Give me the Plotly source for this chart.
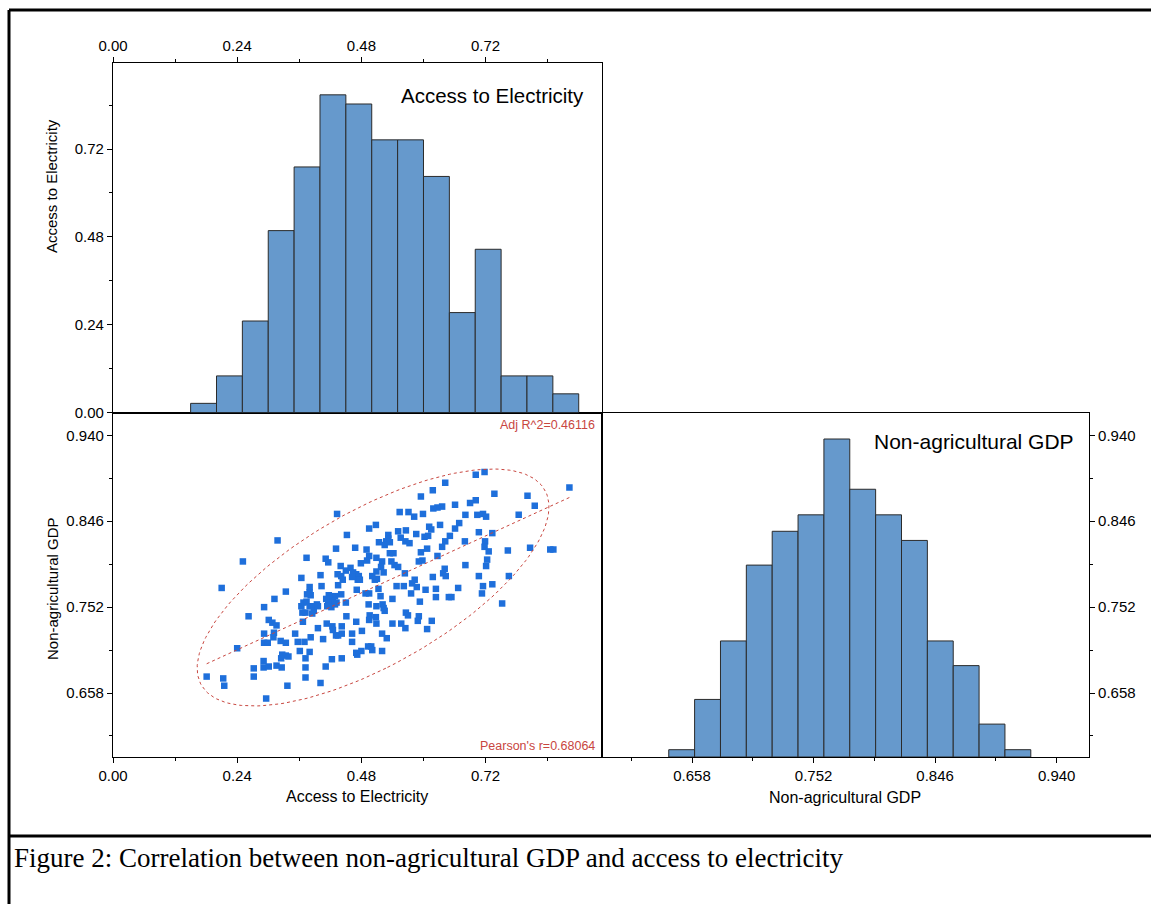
import numpy as np
import plotly.graph_objects as go

# ---------------- data ----------------
ACCESS = [0.718, 0.701, 0.882, 0.642, 0.618, 0.737, 0.595, 0.801, 0.815, 0.701,
          0.690, 0.661, 0.636, 0.627, 0.619, 0.571, 0.554, 0.582, 0.599, 0.681,
          0.704, 0.715, 0.721, 0.784, 0.433, 0.669, 0.661, 0.632, 0.611, 0.615,
          0.508, 0.495, 0.551, 0.566, 0.586, 0.602, 0.609, 0.651, 0.642, 0.680,
          0.707, 0.733, 0.719, 0.718, 0.726, 0.763, 0.806, 0.851, 0.845, 0.452,
          0.532, 0.532, 0.528, 0.514, 0.525, 0.535, 0.556, 0.565, 0.573, 0.318,
          0.431, 0.468, 0.490, 0.509, 0.495, 0.479, 0.491, 0.520, 0.538, 0.544,
          0.551, 0.535, 0.542, 0.595, 0.607, 0.636, 0.627, 0.598, 0.591, 0.641,
          0.638, 0.643, 0.681, 0.723, 0.721, 0.707, 0.765, 0.733, 0.715, 0.713,
          0.752, 0.667, 0.649, 0.654, 0.624, 0.624, 0.618, 0.604, 0.593, 0.587,
          0.583, 0.578, 0.576, 0.564, 0.562, 0.548, 0.540, 0.251, 0.374, 0.411,
          0.416, 0.440, 0.450, 0.459, 0.464, 0.470, 0.475, 0.473, 0.462, 0.509,
          0.518, 0.523, 0.510, 0.506, 0.501, 0.477, 0.471, 0.488, 0.495, 0.513,
          0.517, 0.521, 0.523, 0.525, 0.509, 0.494, 0.401, 0.364, 0.380, 0.403,
          0.434, 0.441, 0.444, 0.435, 0.441, 0.450, 0.421, 0.429, 0.425, 0.417,
          0.416, 0.412, 0.414, 0.422, 0.429, 0.432, 0.394, 0.380, 0.382, 0.375,
          0.364, 0.368, 0.374, 0.380, 0.385, 0.388, 0.396, 0.385, 0.366, 0.372,
          0.334, 0.312, 0.292, 0.262, 0.210, 0.301, 0.308, 0.316, 0.367, 0.396,
          0.413, 0.424, 0.425, 0.431, 0.435, 0.442, 0.442, 0.451, 0.462, 0.470,
          0.481, 0.496, 0.508, 0.495, 0.509, 0.520, 0.529, 0.540, 0.557, 0.565,
          0.566, 0.570, 0.591, 0.589, 0.616, 0.607, 0.292, 0.311, 0.310, 0.292,
          0.299, 0.324, 0.334, 0.352, 0.357, 0.361, 0.370, 0.380, 0.382, 0.406,
          0.372, 0.327, 0.334, 0.339, 0.325, 0.423, 0.442, 0.470, 0.472, 0.480,
          0.493, 0.499, 0.501, 0.520, 0.462, 0.240, 0.291, 0.272, 0.291, 0.301,
          0.316, 0.326, 0.272, 0.181, 0.213, 0.215, 0.337, 0.372, 0.372, 0.411,
          0.401, 0.296]

GDP = [0.900, 0.897, 0.883, 0.888, 0.880, 0.876, 0.873, 0.874, 0.863, 0.869,
       0.866, 0.864, 0.862, 0.861, 0.860, 0.856, 0.856, 0.851, 0.854, 0.853,
       0.853, 0.854, 0.851, 0.853, 0.854, 0.844, 0.838, 0.842, 0.840, 0.837,
       0.842, 0.838, 0.835, 0.836, 0.832, 0.829, 0.830, 0.830, 0.824, 0.824,
       0.834, 0.833, 0.824, 0.818, 0.813, 0.814, 0.817, 0.815, 0.815, 0.831,
       0.831, 0.827, 0.824, 0.823, 0.820, 0.823, 0.828, 0.824, 0.822, 0.825,
       0.816, 0.817, 0.815, 0.806, 0.808, 0.800, 0.803, 0.802, 0.802, 0.798,
       0.796, 0.811, 0.811, 0.812, 0.816, 0.818, 0.808, 0.803, 0.802, 0.794,
       0.789, 0.786, 0.798, 0.804, 0.797, 0.786, 0.786, 0.777, 0.775, 0.767,
       0.756, 0.773, 0.763, 0.763, 0.763, 0.772, 0.785, 0.771, 0.758, 0.774,
       0.782, 0.778, 0.767, 0.789, 0.775, 0.775, 0.761, 0.802, 0.806, 0.805,
       0.801, 0.797, 0.792, 0.795, 0.790, 0.788, 0.786, 0.782, 0.785, 0.791,
       0.796, 0.790, 0.783, 0.782, 0.786, 0.782, 0.771, 0.767, 0.767, 0.772,
       0.764, 0.755, 0.751, 0.748, 0.753, 0.755, 0.787, 0.784, 0.774, 0.775,
       0.788, 0.786, 0.782, 0.776, 0.766, 0.757, 0.763, 0.764, 0.759, 0.765,
       0.757, 0.761, 0.753, 0.752, 0.755, 0.757, 0.755, 0.768, 0.765, 0.766,
       0.753, 0.757, 0.758, 0.753, 0.753, 0.748, 0.753, 0.745, 0.746, 0.746,
       0.769, 0.761, 0.752, 0.742, 0.773, 0.738, 0.735, 0.732, 0.736, 0.729,
       0.734, 0.731, 0.727, 0.721, 0.721, 0.723, 0.731, 0.742, 0.723, 0.736,
       0.726, 0.743, 0.741, 0.738, 0.734, 0.723, 0.718, 0.734, 0.734, 0.729,
       0.746, 0.743, 0.742, 0.737, 0.737, 0.728, 0.723, 0.724, 0.719, 0.713,
       0.713, 0.715, 0.713, 0.723, 0.714, 0.704, 0.714, 0.703, 0.719, 0.717,
       0.696, 0.700, 0.699, 0.698, 0.696, 0.695, 0.696, 0.702, 0.700, 0.704,
       0.709, 0.709, 0.705, 0.704, 0.714, 0.707, 0.693, 0.685, 0.686, 0.687,
       0.688, 0.686, 0.676, 0.676, 0.674, 0.666, 0.666, 0.675, 0.686, 0.687,
       0.669, 0.652]

ACCESS_BIN_CENTERS = [0.175, 0.225, 0.275, 0.325, 0.375, 0.425, 0.475, 0.525,
                      0.575, 0.625, 0.675, 0.725, 0.775, 0.825, 0.875]
ACCESS_BIN_HEIGHTS = [0.025, 0.100, 0.250, 0.497, 0.671, 0.868, 0.843, 0.745,
                      0.745, 0.645, 0.273, 0.446, 0.100, 0.100, 0.051]

GDP_BIN_CENTERS = [0.65, 0.67, 0.69, 0.71, 0.73, 0.75, 0.77,
                   0.79, 0.81, 0.83, 0.85, 0.87, 0.89, 0.91]
GDP_BIN_TOPS = [0.596, 0.651, 0.715, 0.798, 0.835, 0.853, 0.936,
                0.881, 0.853, 0.825, 0.715, 0.688, 0.624, 0.596]

ACCESS_TICKS = [0.00, 0.24, 0.48, 0.72]
ACCESS_TICK_TEXT = ["0.00", "0.24", "0.48", "0.72"]
GDP_TICKS = [0.658, 0.752, 0.846, 0.940]
GDP_TICK_TEXT = ["0.658", "0.752", "0.846", "0.940"]

PEARSON_R = 0.68064
ADJ_R2_TEXT = "Adj R^2=0.46116"
PEARSON_TEXT = "Pearson's r=0.68064"
CAPTION = "Figure 2: Correlation between non-agricultural GDP and access to electricity"

# ---------------- style / layout constants ----------------
W, H = 1151, 904
ACCESS_RANGE = [0.0, 0.944]
ACCESS_HIST_RANGE = [0.0, 0.955]
GDP_RANGE = [0.588, 0.965]

X_LEFT, X_MID, X_RIGHT = 113 / W, 601.5 / W, 1089 / W
Y_TOP, Y_MID, Y_BOT = 1 - 63 / H, 1 - 412.5 / H, 1 - 757 / H

FONT = "Arial, Liberation Sans, sans-serif"
BAR_FILL = "#6699CC"
BAR_EDGE = "#2b2b2b"
POINT_COLOR = "#1E6FDB"
RED = "#C8463F"

# ---------------- derived curves (from data + reported r) ----------------
ax = np.array(ACCESS)
gy = np.array(GDP)
mx, my = ax.mean(), gy.mean()
sx, sy = ax.std(ddof=1), gy.std(ddof=1)
slope = PEARSON_R * sy / sx
fit_x = np.array([ax.min(), ax.max()])
fit_y = my + slope * (fit_x - mx)

cov = np.array([[sx * sx, PEARSON_R * sx * sy], [PEARSON_R * sx * sy, sy * sy]])
vals, vecs = np.linalg.eigh(cov)
k = np.sqrt(5.991)
t = np.linspace(0, 2 * np.pi, 200)
circle = np.vstack([np.cos(t), np.sin(t)])
ell = vecs @ (np.sqrt(vals)[:, None] * k * circle)
ell_x = ell[0] + mx
ell_y = ell[1] + my

fig = go.Figure()

# top histogram (Access to Electricity)
fig.add_trace(go.Bar(
    x=ACCESS_BIN_CENTERS, y=ACCESS_BIN_HEIGHTS, width=0.05,
    marker=dict(color=BAR_FILL, line=dict(color=BAR_EDGE, width=1)),
    xaxis="x2", yaxis="y2", showlegend=False, hoverinfo="skip"))

# scatter
fig.add_trace(go.Scatter(
    x=ACCESS, y=GDP, mode="markers",
    marker=dict(symbol="square", size=6.5, color=POINT_COLOR),
    xaxis="x", yaxis="y", showlegend=False))

# confidence ellipse
fig.add_trace(go.Scatter(
    x=ell_x, y=ell_y, mode="lines",
    line=dict(color=RED, width=1, dash="dot"),
    xaxis="x", yaxis="y", showlegend=False, hoverinfo="skip"))

# regression line
fig.add_trace(go.Scatter(
    x=fit_x, y=fit_y, mode="lines",
    line=dict(color=RED, width=1, dash="dot"),
    xaxis="x", yaxis="y", showlegend=False, hoverinfo="skip"))

# right histogram (Non-agricultural GDP)
fig.add_trace(go.Bar(
    x=GDP_BIN_CENTERS, y=[tp - GDP_RANGE[0] for tp in GDP_BIN_TOPS],
    base=GDP_RANGE[0], width=0.02,
    marker=dict(color=BAR_FILL, line=dict(color=BAR_EDGE, width=1)),
    xaxis="x3", yaxis="y3", showlegend=False, hoverinfo="skip"))

common = dict(showgrid=False, zeroline=False, showline=True, linecolor="black",
              linewidth=1.2, mirror=True, ticks="outside", ticklen=5,
              tickwidth=1, tickcolor="black", automargin=False,
              tickfont=dict(family=FONT, size=15, color="black"))
minor_acc = dict(tick0=0.12, dtick=0.24, ticks="outside", ticklen=3, tickcolor="black")
minor_gdp = dict(tick0=0.611, dtick=0.094, ticks="outside", ticklen=3, tickcolor="black")

fig.update_layout(
    width=W, height=H,
    margin=dict(l=0, r=0, t=0, b=0, pad=0),
    paper_bgcolor="white", plot_bgcolor="white",
    font=dict(family=FONT, color="black"),
    barmode="overlay",
    xaxis=dict(domain=[X_LEFT, X_MID], anchor="y", range=ACCESS_RANGE,
               tickmode="array", tickvals=ACCESS_TICKS, ticktext=ACCESS_TICK_TEXT,
               minor=minor_acc, **common),
    yaxis=dict(domain=[Y_BOT, Y_MID], anchor="x", range=GDP_RANGE,
               tickmode="array", tickvals=GDP_TICKS, ticktext=GDP_TICK_TEXT,
               minor=minor_gdp, **common),
    xaxis2=dict(domain=[X_LEFT, X_MID], anchor="y2", side="top", range=ACCESS_RANGE,
                tickmode="array", tickvals=ACCESS_TICKS, ticktext=ACCESS_TICK_TEXT,
                minor=minor_acc, **common),
    yaxis2=dict(domain=[Y_MID, Y_TOP], anchor="x2", range=ACCESS_HIST_RANGE,
                tickmode="array", tickvals=ACCESS_TICKS, ticktext=ACCESS_TICK_TEXT,
                minor=minor_acc, **common),
    xaxis3=dict(domain=[X_MID, X_RIGHT], anchor="y3", range=GDP_RANGE,
                tickmode="array", tickvals=GDP_TICKS, ticktext=GDP_TICK_TEXT,
                minor=minor_gdp, **common),
    yaxis3=dict(domain=[Y_BOT, Y_MID], anchor="x3", side="right", range=GDP_RANGE,
                tickmode="array", tickvals=GDP_TICKS, ticktext=GDP_TICK_TEXT,
                minor=minor_gdp, **common),
)

ann = []
ann.append(dict(text="Access to Electricity", x=585.7 / W, y=1 - 96 / H,
                xanchor="right", yanchor="middle",
                font=dict(family=FONT, size=20.5, color="black")))
ann.append(dict(text="Non-agricultural GDP", x=1076 / W, y=1 - 441 / H,
                xanchor="right", yanchor="middle",
                font=dict(family=FONT, size=21, color="black")))
ann.append(dict(text=ADJ_R2_TEXT, x=597 / W, y=1 - 425 / H,
                xanchor="right", yanchor="middle",
                font=dict(family=FONT, size=12.5, color=RED)))
ann.append(dict(text=PEARSON_TEXT, x=597 / W, y=1 - 746 / H,
                xanchor="right", yanchor="middle",
                font=dict(family=FONT, size=12.5, color=RED)))
ann.append(dict(text="Access to Electricity", x=357 / W, y=1 - 796 / H,
                xanchor="center", yanchor="middle",
                font=dict(family=FONT, size=16, color="black")))
ann.append(dict(text="Non-agricultural GDP", x=845 / W, y=1 - 797 / H,
                xanchor="center", yanchor="middle",
                font=dict(family=FONT, size=16, color="black")))
ann.append(dict(text="Non-agricultural GDP", x=52 / W, y=1 - 589 / H,
                xanchor="center", yanchor="middle", textangle=-90,
                font=dict(family=FONT, size=15, color="black")))
ann.append(dict(text="Access to Electricity", x=52 / W, y=1 - 186 / H,
                xanchor="center", yanchor="middle", textangle=-90,
                font=dict(family=FONT, size=15, color="black")))
ann.append(dict(text=CAPTION, x=12 / W, y=1 - 858 / H,
                xanchor="left", yanchor="middle",
                font=dict(family="Liberation Serif, Times New Roman, serif",
                          size=27, color="black")))
for a in ann:
    a.update(xref="paper", yref="paper", showarrow=False)
fig.update_layout(annotations=ann)

# outer frame lines (paper coordinates)
frame = [
    dict(x0=9 / W, x1=1.0, y0=1 - 10 / H, y1=1 - 10 / H),
    dict(x0=9 / W, x1=9 / W, y0=0.0, y1=1 - 10 / H),
    dict(x0=9 / W, x1=1.0, y0=1 - 836 / H, y1=1 - 836 / H),
]
fig.update_layout(shapes=[dict(type="line", xref="paper", yref="paper",
                               line=dict(color="black", width=3), **f) for f in frame])

fig.write_html("out.html", config={"displayModeBar": False},
               post_script="document.body.style.margin='0';")
